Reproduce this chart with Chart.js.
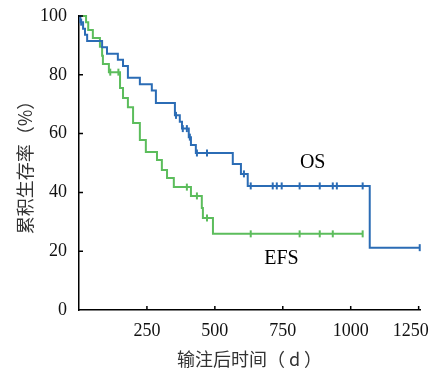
<!DOCTYPE html>
<html>
<head>
<meta charset="utf-8">
<script src="https://cdn.jsdelivr.net/npm/chart.js@4.4.1/dist/chart.umd.min.js"></script>
<style>
    html, body { margin: 0; padding: 0; background: #fff; }
</style>
</head>
<body>
<canvas id="km" width="433" height="378"></canvas>
<script>
// OS: event times (d) and survival (%) after each drop
const osTimes = [0, 5, 15, 22, 30, 85, 103, 143, 162, 180, 224, 268, 283, 353, 371, 379, 404, 412, 430, 566, 596, 621, 1070, 1254];
const osSurv = [100, 97.9, 95.7, 93.6, 91.5, 89.4, 87.2, 85.1, 83.0, 79.0, 76.8, 74.7, 70.4, 66.2, 64.0, 61.7, 58.8, 56.1, 53.4, 49.7, 46.3, 42.2, 21.2, 21.2];
const osCensored = [8, 357, 382, 397, 408, 434, 471, 607, 632, 713, 728, 746, 812, 886, 934, 949, 1044, 1254];

// EFS
const efsTimes = [0, 26, 34, 51, 77, 85, 88, 110, 151, 162, 180, 199, 224, 246, 287, 305, 324, 349, 412, 452, 456, 493, 1044];
const efsSurv = [100, 97.9, 95.2, 92.5, 89.5, 86.5, 83.7, 80.9, 75.5, 72.1, 69.0, 63.6, 57.8, 53.7, 51.0, 47.6, 44.9, 41.8, 38.8, 34.7, 31.3, 25.9, 25.9];
const efsCensored = [115, 145, 397, 434, 471, 632, 812, 886, 934, 1044];

const xTicks = [250, 500, 750, 1000, 1250];
const yTicks = [0, 20, 40, 60, 80, 100];

const BLUE = '#2b6cb5';
const GREEN = '#5cbd5c';

// survival value at time t (step function)
function survAt(times, surv, t) {
    let v = surv[0];
    for (let i = 0; i < times.length; i++) {
        if (times[i] <= t) v = surv[i];
    }
    return v;
}

const toPoints = (times, surv) => times.map((t, i) => ({ x: t, y: surv[i] }));
const censorPoints = (cens, times, surv) => cens.map(t => ({ x: t, y: survAt(times, surv, t) }));

// inward tick marks + curve labels
const extras = {
    id: 'extras',
    beforeDraw(chart) {
        // keep the last x label inside the canvas
        const items = chart.scales.x.getLabelItems();
        const last = items[items.length - 1];
        if (last) last.options.translation[0] -= 8;
    },
    afterDraw(chart) {
        const { ctx, scales: { x, y } } = chart;
        ctx.save();
        ctx.strokeStyle = '#000';
        ctx.lineWidth = 1.5;
        ctx.beginPath();
        xTicks.forEach(v => {
            const px = x.getPixelForValue(v);
            ctx.moveTo(px, y.bottom);
            ctx.lineTo(px, y.bottom - 4);
        });
        yTicks.forEach(v => {
            if (!v) return;
            const py = y.getPixelForValue(v);
            ctx.moveTo(x.left, py);
            ctx.lineTo(x.left + 4, py);
        });
        ctx.stroke();

        ctx.fillStyle = '#000';
        ctx.font = '20px "Liberation Serif"';
        ctx.textAlign = 'center';
        ctx.textBaseline = 'middle';
        ctx.fillText('OS', x.getPixelForValue(860), y.getPixelForValue(50));
        ctx.fillText('EFS', x.getPixelForValue(745), y.getPixelForValue(17.5));
        ctx.restore();
    }
};

new Chart(document.getElementById('km'), {
    type: 'line',
    data: {
        datasets: [
            {
                data: toPoints(osTimes, osSurv),
                borderColor: BLUE,
                borderWidth: 2,
                stepped: 'before',
                pointRadius: 0,
                fill: false
            },
            {
                data: toPoints(efsTimes, efsSurv),
                borderColor: GREEN,
                borderWidth: 2,
                stepped: 'before',
                pointRadius: 0,
                fill: false
            },
            {
                type: 'scatter',
                data: censorPoints(osCensored, osTimes, osSurv),
                borderColor: BLUE,
                backgroundColor: BLUE,
                pointStyle: 'line',
                rotation: 90,
                pointRadius: 3.5,
                borderWidth: 2
            },
            {
                type: 'scatter',
                data: censorPoints(efsCensored, efsTimes, efsSurv),
                borderColor: GREEN,
                backgroundColor: GREEN,
                pointStyle: 'line',
                rotation: 90,
                pointRadius: 3.5,
                borderWidth: 2
            }
        ]
    },
    options: {
        responsive: false,
        animation: false,
        devicePixelRatio: 1,
        clip: false,
        layout: { padding: { top: 16, right: 13, left: 0, bottom: 0 } },
        plugins: {
            legend: { display: false },
            tooltip: { enabled: false }
        },
        scales: {
            x: {
                type: 'linear',
                min: 0,
                max: 1255,
                afterBuildTicks: s => { s.ticks = xTicks.map(v => ({ value: v })); },
                afterFit: s => { s.height = 68; s.paddingLeft = 0; s.paddingRight = 0; },
                border: { color: '#000', width: 1.5 },
                grid: { drawOnChartArea: false, drawTicks: false },
                ticks: {
                    padding: 10,
                    maxRotation: 0,
                    color: '#111',
                    callback: v => String(v),
                    font: { family: '"Liberation Serif"', size: 18 }
                },
                title: {
                    display: true,
                    text: '输注后时间（ d ）',
                    color: '#333',
                    font: { family: '"Noto Sans CJK SC"', size: 18 },
                    padding: { top: 0, bottom: 8 }
                }
            },
            y: {
                min: 0,
                max: 100,
                afterBuildTicks: s => { s.ticks = yTicks.map(v => ({ value: v })); },
                afterFit: s => { s.width = 79; s.paddingTop = 0; s.paddingBottom = 0; },
                border: { color: '#000', width: 1.5 },
                grid: { drawOnChartArea: false, drawTicks: false },
                ticks: {
                    padding: 12,
                    color: '#111',
                    callback: v => String(v),
                    font: { family: '"Liberation Serif"', size: 18 }
                },
                title: {
                    display: true,
                    text: '累积生存率（%）',
                    color: '#333',
                    font: { family: '"Noto Sans CJK SC"', size: 18 },
                    padding: { top: 14, bottom: 0 }
                }
            }
        }
    },
    plugins: [extras]
});
</script>
</body>
</html>
